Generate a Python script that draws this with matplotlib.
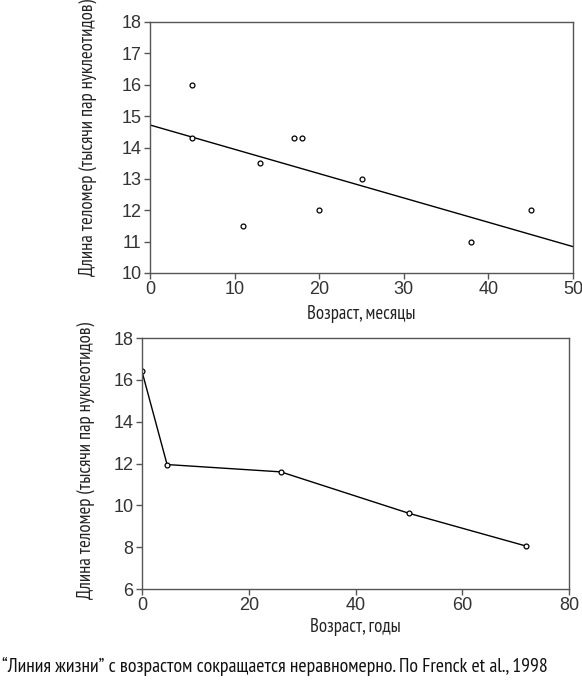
import numpy as np
import matplotlib
matplotlib.use('Agg')
from matplotlib import pyplot as plt

# top panel: months vs telomere length
months = [5, 5, 11, 13, 17, 18, 20, 25, 38, 45]
length_months = [16.0, 14.3, 11.5, 13.5, 14.3, 14.3, 12.0, 13.0, 11.0, 12.0]

# bottom panel: years vs telomere length
years = [0, 4.7, 26, 50, 72]
length_years = [16.4, 11.95, 11.6, 9.62, 8.05]

ylabel = 'Длина теломер (тысячи пар нуклеотидов)'
caption = '“Линия жизни” с возрастом сокращается неравномерно. По Frenck et al., 1998'

narrow = ['PT Sans Narrow', 'DejaVu Sans']
plt.rcParams['font.family'] = ['Liberation Sans', 'DejaVu Sans']

fig = plt.figure(figsize=(5.82, 6.87), dpi=100)
W, H = 582, 687


def make_axes(left, top, right, bottom):
    return fig.add_axes([left / W, 1 - bottom / H, (right - left) / W, (bottom - top) / H])


def style(ax):
    for s in ax.spines.values():
        s.set_color('#555555')
        s.set_linewidth(1.0)
    ax.tick_params(direction='out', length=4, width=1, color='#555555',
                   labelsize=13, labelcolor='#333333', pad=2)


ax1 = make_axes(150, 22, 573, 273)
coef = np.polyfit(months, length_months, 1)
xfit = np.array([0, 50])
ax1.plot(xfit, np.polyval(coef, xfit), color='black', lw=1.0)
ax1.plot(months, length_months, 'o', ms=3.5, mfc='white', mec='black', mew=0.9)
ax1.set_xlim(0, 50)
ax1.set_ylim(10, 18)
ax1.set_xticks(range(0, 51, 10))
ax1.set_yticks(range(10, 19))
style(ax1)
ax1.set_xlabel('Возраст, месяцы', family=narrow, fontsize=13.5, color='#222222', labelpad=5)
ax1.set_ylabel(ylabel, family=narrow, fontsize=13.5, color='#222222')
ax1.yaxis.set_label_coords(-0.125, 0.54)

ax2 = make_axes(142, 338, 569, 589)
ax2.plot(years, length_years, '-o', color='black', lw=1.0, ms=3.5,
         mfc='white', mec='black', mew=0.9)
ax2.set_xlim(0, 80)
ax2.set_ylim(6, 18)
ax2.set_xticks(range(0, 81, 20))
ax2.set_yticks(range(6, 19, 2))
style(ax2)
ax2.set_xlabel('Возраст, годы', family=narrow, fontsize=13.5, color='#222222', labelpad=3)
ax2.set_ylabel(ylabel, family=narrow, fontsize=13.5, color='#222222')
ax2.yaxis.set_label_coords(-0.11, 0.51)

fig.text(2 / W, 1 - 666 / H, caption, family=narrow, fontsize=14.2, color='#111111',
         va='center', ha='left')

plt.savefig('out.png', dpi=100)
